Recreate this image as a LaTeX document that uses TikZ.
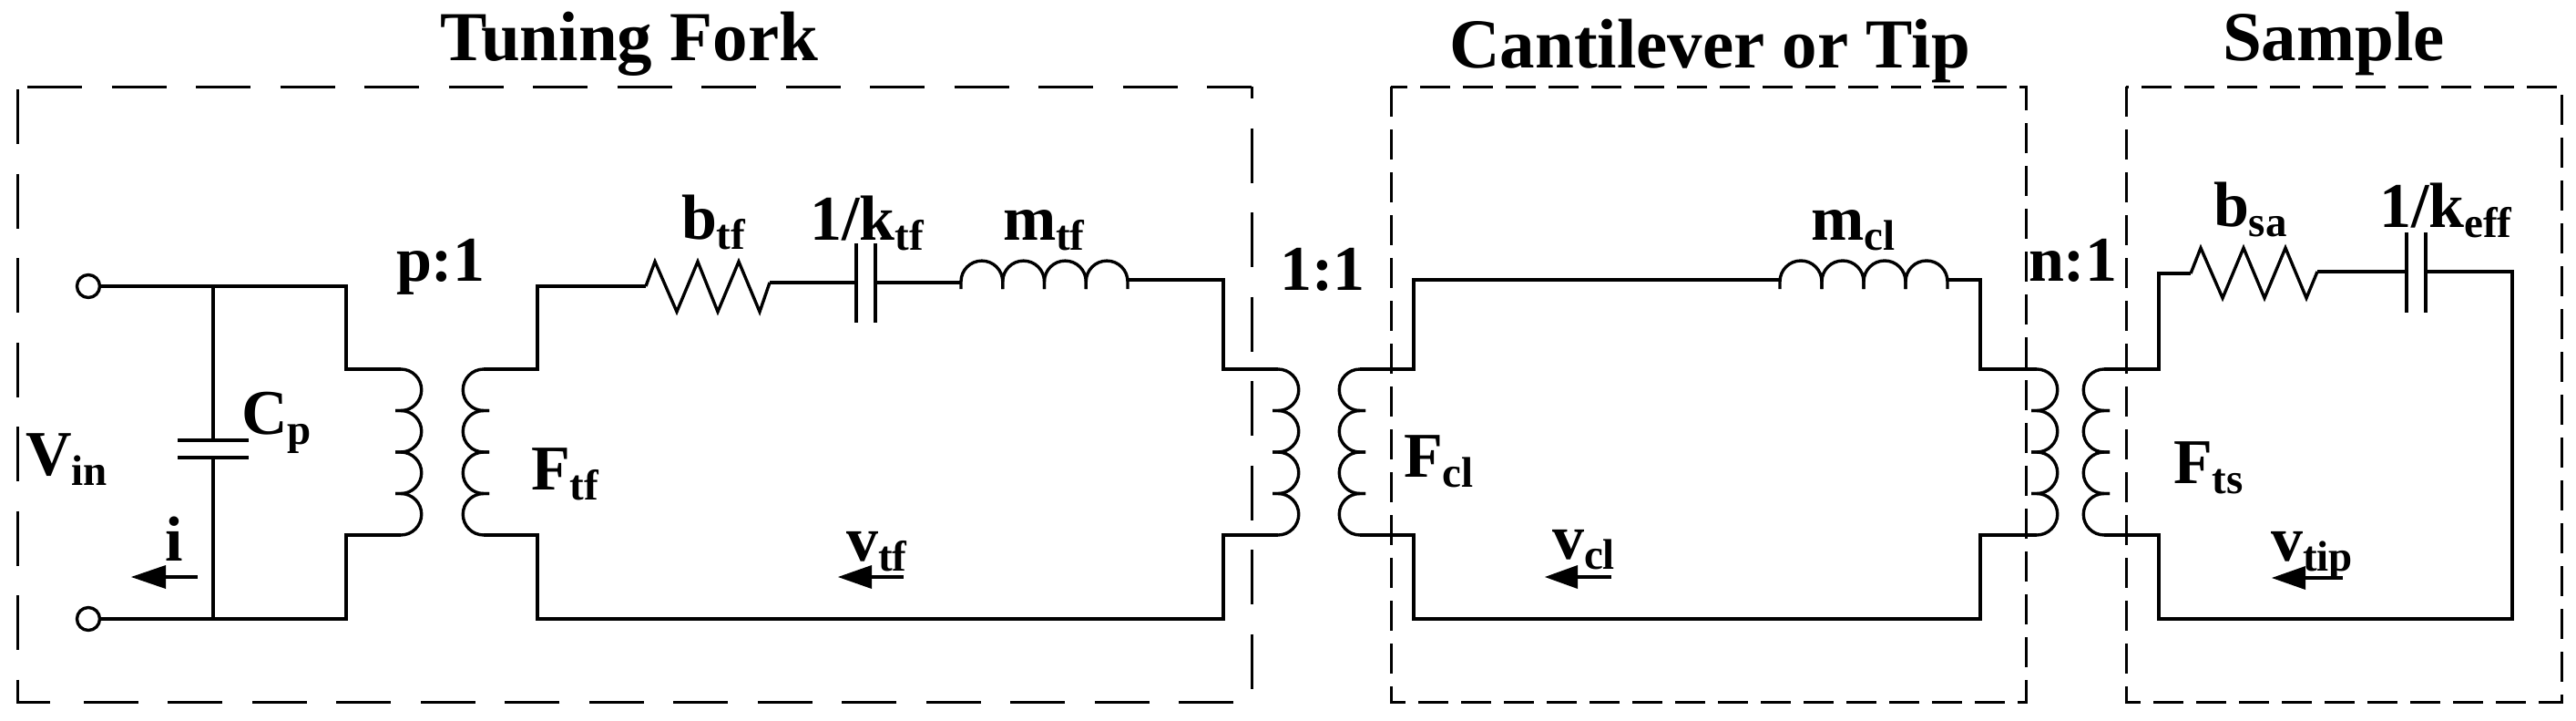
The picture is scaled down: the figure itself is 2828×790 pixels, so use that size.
\documentclass[tikz,border=0pt]{standalone}
\usepackage{fontspec}
\setmainfont{Liberation Serif}[BoldFont={Liberation Serif Bold}]
\newcommand{\mainsz}{\fontsize{70}{70}\selectfont\bfseries}
\newcommand{\lab}[2]{{\mainsz #1}\raisebox{-11pt}{\fontsize{47}{47}\selectfont\bfseries #2}}
\newcommand{\titl}[1]{{\fontsize{77}{77}\selectfont\bfseries #1}}
\newcommand{\coilR}[1]{\foreach \yy in {405,450.5,496,541.5}{\pgfmathsetmacro{\yn}{\yy+45.5}\draw[wire] (#1-6,\yy) -- (#1,\yy) arc[start angle=-90,end angle=90,radius=22.75] -- (#1-6,\yn);}}
\newcommand{\coilL}[1]{\foreach \yy in {405,450.5,496,541.5}{\pgfmathsetmacro{\yn}{\yy+45.5}\draw[wire] (#1+6,\yy) -- (#1,\yy) arc[start angle=-90,end angle=-270,radius=22.75] -- (#1+6,\yn);}}
\newcommand{\induct}[3]{\foreach \k in {0,1,2,3}{\draw[wire] ({#1+\k*#3},#2+8) -- ({#1+\k*#3},#2) arc[start angle=180,end angle=360,radius=#3/2] -- ({#1+\k*#3+#3},#2+8);}}
\tikzset{
  wire/.style={line width=3.4pt,black,line join=miter},
  plate/.style={line width=3.4pt,black},
  longbox/.style={line width=3pt,black,dash pattern=on 60pt off 32.5pt},
  shortbox/.style={line width=3pt,black,dash pattern=on 33pt off 14pt},
  term/.style={circle,draw=black,line width=3.4pt,fill=white,minimum size=25pt,inner sep=0pt},
  lbl/.style={anchor=base west,inner sep=0pt,outer sep=0pt},
  ttl/.style={anchor=base,inner sep=0pt,outer sep=0pt},
  flow/.style={line width=3.6pt,black},
  head/.style={fill=black,draw=none}
}
\begin{document}
\begin{tikzpicture}[x=1pt,y=-1pt]
\useasboundingbox[fill=white] (0,0) rectangle (2828,790);
% boxes
\draw[longbox] (30,95) -- (1374,95);
\draw[longbox] (19,98) -- (19,770) -- (56,770);
\draw[longbox,dash phase=47] (1374,95) -- (1374,757);
\draw[longbox] (1354,770) -- (88,770);
\draw[shortbox] (1527,95) -- (1527,770) -- (2224,770) -- (2224,95) -- cycle;
\draw[shortbox] (2334,95) -- (2334,770) -- (2812,770) -- (2812,95) -- cycle;
% terminals and coordinates
\node[term] (ta) at (97,314) {};
\node[term] (tb) at (97,679) {};
\coordinate (ja) at (234,314);
\coordinate (jb) at (234,679);
\coordinate (ca) at (234,483);
\coordinate (cb) at (234,502);
\coordinate (p1a) at (380,314);
\coordinate (p1b) at (380,405);
\coordinate (p1c) at (440,405);
\coordinate (p1d) at (440,587);
\coordinate (p1e) at (380,587);
\coordinate (p1f) at (380,679);
\draw[wire] (ta) -- (ja) -- (p1a) -- (p1b) -- (p1c);
\draw[wire] (tb) -- (jb) -- (p1f) -- (p1e) -- (p1d);
\draw[wire] (ja) -- (ca);
\draw[wire] (cb) -- (jb);
\draw[plate] (195,483) -- (273,483);
\draw[plate] (195,502) -- (273,502);
\coilR{440}
\coilL{531}
% tuning fork loop
\coordinate (s1a) at (531,405);
\coordinate (s1b) at (590,405);
\coordinate (s1c) at (590,314);
\coordinate (r1a) at (709,314);
\coordinate (r1b) at (845,310);
\coordinate (c1a) at (940,310);
\coordinate (c1b) at (961,310);
\coordinate (l1a) at (1055,310);
\coordinate (l1b) at (1238,307);
\coordinate (p2a) at (1343,307);
\coordinate (p2b) at (1343,405);
\coordinate (p2c) at (1403,405);
\coordinate (p2d) at (1403,587);
\coordinate (p2e) at (1343,587);
\coordinate (p2f) at (1343,679);
\coordinate (s1f) at (590,679);
\coordinate (s1e) at (590,587);
\coordinate (s1d) at (531,587);
\draw[wire] (s1a) -- (s1b) -- (s1c) -- (r1a);
\draw[wire] (r1a) -- (719,287) -- (743,342) -- (766,287) -- (788,342) -- (811,287) -- (834,342) -- (r1b);
\draw[wire] (r1b) -- (c1a);
\draw[plate] (940,267) -- (940,354);
\draw[plate] (961,267) -- (961,354);
\draw[wire] (c1b) -- (l1a);
\induct{1055}{309}{45.75}
\draw[wire] (l1b) -- (p2a) -- (p2b) -- (p2c);
\draw[wire] (p2d) -- (p2e) -- (p2f) -- (s1f) -- (s1e) -- (s1d);
\coilR{1403}
\coilL{1493}
% cantilever loop
\coordinate (s2a) at (1493,405);
\coordinate (s2b) at (1552,405);
\coordinate (s2c) at (1552,307);
\coordinate (l2a) at (1954,307);
\coordinate (l2b) at (2138,307);
\coordinate (p3a) at (2174,307);
\coordinate (p3b) at (2174,405);
\coordinate (p3c) at (2236,405);
\coordinate (p3d) at (2236,587);
\coordinate (p3e) at (2174,587);
\coordinate (p3f) at (2174,679);
\coordinate (s2f) at (1552,679);
\coordinate (s2e) at (1552,587);
\coordinate (s2d) at (1493,587);
\draw[wire] (s2a) -- (s2b) -- (s2c) -- (l2a);
\induct{1954}{309}{46}
\draw[wire] (l2b) -- (p3a) -- (p3b) -- (p3c);
\draw[wire] (p3d) -- (p3e) -- (p3f) -- (s2f) -- (s2e) -- (s2d);
\coilR{2236}
\coilL{2310}
% sample loop
\coordinate (s3a) at (2310,405);
\coordinate (s3b) at (2370,405);
\coordinate (s3c) at (2370,300);
\coordinate (r3a) at (2405,300);
\coordinate (r3b) at (2544,298);
\coordinate (c3a) at (2642,298);
\coordinate (c3b) at (2663,298);
\coordinate (e3a) at (2758,298);
\coordinate (e3b) at (2758,679);
\coordinate (s3f) at (2370,679);
\coordinate (s3e) at (2370,587);
\coordinate (s3d) at (2310,587);
\draw[wire] (s3a) -- (s3b) -- (s3c) -- (r3a);
\draw[wire] (r3a) -- (2416,272) -- (2440,327) -- (2463,272) -- (2486,327) -- (2509,272) -- (2532,327) -- (r3b);
\draw[wire] (r3b) -- (c3a);
\draw[plate] (2642,255) -- (2642,343);
\draw[plate] (2663,255) -- (2663,343);
\draw[wire] (c3b) -- (e3a) -- (e3b) -- (s3f) -- (s3e) -- (s3d);
% flow arrows
\foreach \n/\t/\b/\e/\yy in {i/144/182/217/633,tf/920/957/992/633,cl/1696/1732/1769/633,tip/2494/2531/2572/634}{
  \fill[head] (\t,\yy) -- (\b,\yy-13) -- (\b,\yy+13) -- cycle;
  \draw[flow] (\b,\yy) -- (\e,\yy);
}
% titles
\node[ttl] (t1) at (691,66) {\titl{Tuning Fork}};
\node[ttl] (t2) at (1877,74) {\titl{Cantilever or Tip}};
\node[ttl] (t3) at (2562,66) {\titl{Sample}};
% labels
\node[lbl] (n1) at (435,308) {\lab{p:1}{}};
\node[lbl] (n2) at (1405,318) {\lab{1:1}{}};
\node[lbl] (n3) at (2227,308) {\lab{n:1}{}};
\node[lbl] (v1) at (28,521) {\lab{V}{in}};
\node[lbl] (c1) at (265,476) {\lab{C}{p}};
\node[lbl] (i1) at (181,615) {\lab{i}{}};
\node[lbl] (f1) at (583,537) {\lab{F}{tf}};
\node[lbl] (b1) at (748,262) {\lab{b}{tf}};
\node[lbl] (k1) at (889,263) {\lab{1/k}{tf}};
\node[lbl] (m1) at (1101,263) {\lab{m}{tf}};
\node[lbl] (vt) at (929,615) {\lab{v}{tf}};
\node[lbl] (f2) at (1541,523) {\lab{F}{cl}};
\node[lbl] (m2) at (1988,263) {\lab{m}{cl}};
\node[lbl] (vc) at (1704,613) {\lab{v}{cl}};
\node[lbl] (b3) at (2430,248) {\lab{b}{sa}};
\node[lbl] (k3) at (2612,249) {\lab{1/k}{eff}};
\node[lbl] (f3) at (2386,530) {\lab{F}{ts}};
\node[lbl] (vp) at (2493,615) {\lab{v}{tip}};
\end{tikzpicture}
\end{document}
